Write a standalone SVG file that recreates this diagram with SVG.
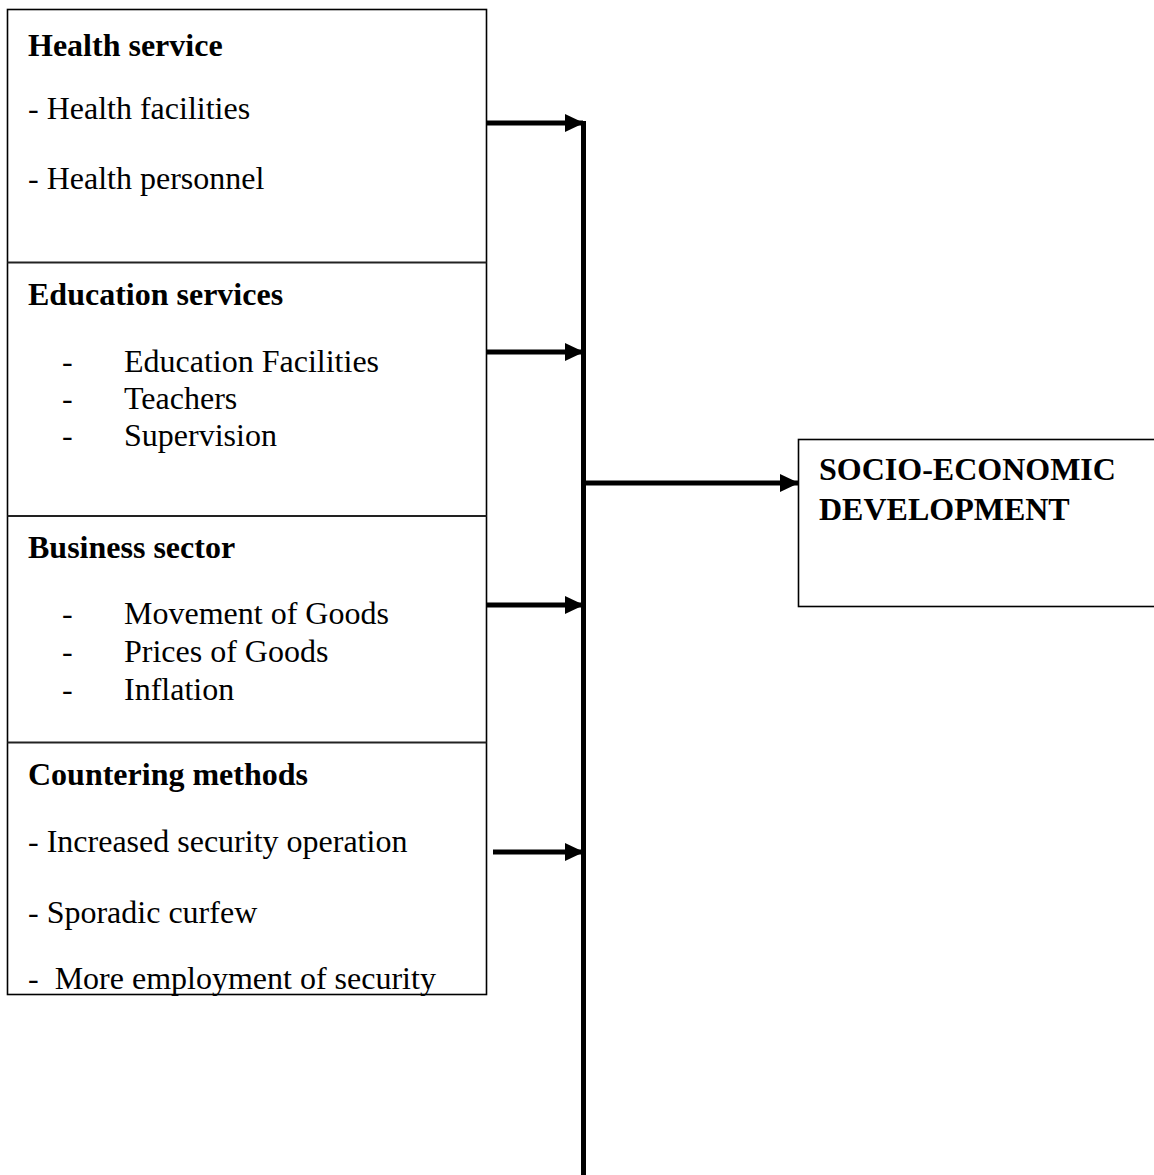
<svg xmlns="http://www.w3.org/2000/svg" width="1154" height="1175" viewBox="0 0 1154 1175">
<style>
text{font-family:"Liberation Serif","Times New Roman",serif;font-size:32px;fill:#000}
.b{font-weight:bold}
.box{fill:#fff;stroke:#000;stroke-width:1.6}
.div{stroke:#222;stroke-width:2}
.conn{stroke:#000;stroke-width:5;fill:none}
</style>
<defs>
<marker id="ah" markerUnits="userSpaceOnUse" viewBox="0 0 19 18" refX="18" refY="9" markerWidth="19" markerHeight="18" orient="auto">
<path d="M0,0 L19,9 L0,18 z" fill="#000"/>
</marker>
</defs>
<g id="factors">
<rect class="box" x="7.5" y="9.5" width="479" height="985"/>
<line class="div" x1="7.5" y1="262.5" x2="486.5" y2="262.5"/>
<line class="div" x1="7.5" y1="516" x2="486.5" y2="516"/>
<line class="div" x1="7.5" y1="742.5" x2="486.5" y2="742.5"/>
</g>
<g id="health">
<text class="b" x="28" y="56">Health service</text>
<text x="28" y="119">- Health facilities</text>
<text x="28" y="189">- Health personnel</text>
</g>
<g id="education">
<text class="b" x="28" y="305">Education services</text>
<text x="62" y="372">-</text><text x="124" y="372">Education Facilities</text>
<text x="62" y="409">-</text><text x="124" y="409">Teachers</text>
<text x="62" y="446">-</text><text x="124" y="446">Supervision</text>
</g>
<g id="business">
<text class="b" x="28" y="558">Business sector</text>
<text x="62" y="624">-</text><text x="124" y="624">Movement of Goods</text>
<text x="62" y="662">-</text><text x="124" y="662">Prices of Goods</text>
<text x="62" y="700">-</text><text x="124" y="700">Inflation</text>
</g>
<g id="countering">
<text class="b" x="28" y="785">Countering methods</text>
<text x="28" y="852">- Increased security operation</text>
<text x="28" y="923">- Sporadic curfew</text>
<text x="28" y="989" xml:space="preserve">-  More employment of security</text>
</g>
<g id="socio">
<rect class="box" x="798.5" y="439.5" width="370" height="167"/>
<text class="b" x="819" y="480">SOCIO-ECONOMIC</text>
<text class="b" x="819" y="520">DEVELOPMENT</text>
</g>
<g id="connectors">
<line class="conn" x1="583.5" y1="121" x2="583.5" y2="1175"/>
<line class="conn" x1="487" y1="123" x2="583" y2="123" marker-end="url(#ah)"/>
<line class="conn" x1="487" y1="352" x2="583" y2="352" marker-end="url(#ah)"/>
<line class="conn" x1="487" y1="605" x2="583" y2="605" marker-end="url(#ah)"/>
<line class="conn" x1="493" y1="852" x2="583" y2="852" marker-end="url(#ah)"/>
<line class="conn" x1="586" y1="483" x2="798" y2="483" marker-end="url(#ah)"/>
</g>
</svg>
